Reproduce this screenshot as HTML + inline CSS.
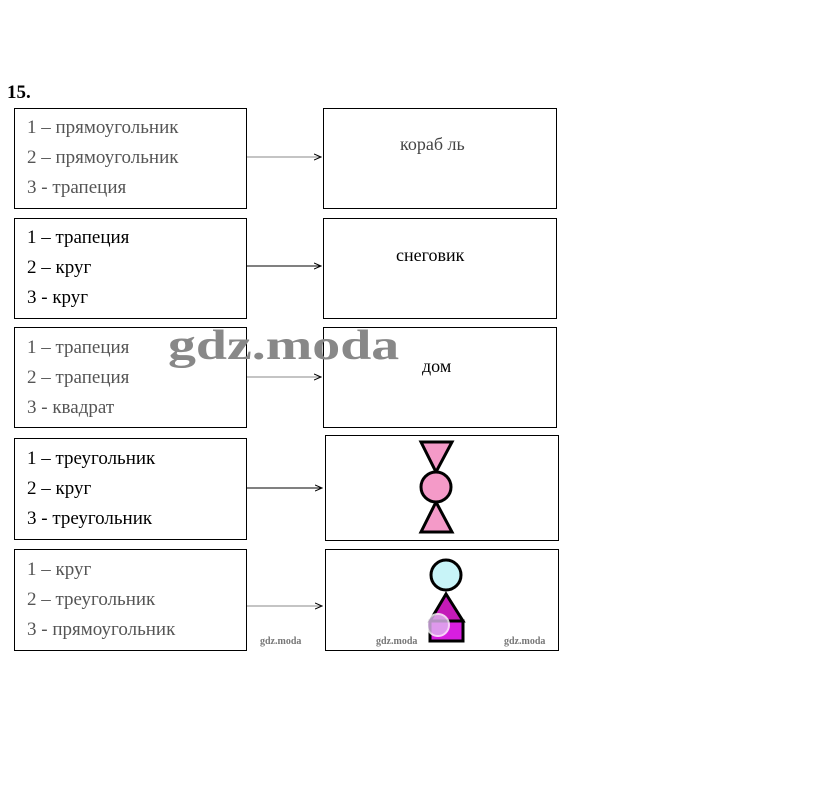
<!DOCTYPE html>
<html><head><meta charset="utf-8"><style>
body{margin:0;width:823px;height:792px;background:#fff;position:relative;overflow:hidden;font-family:"Liberation Serif",serif;}
.b{position:absolute;border:1.3px solid #000;box-sizing:border-box;background:#fff}
.t{position:absolute;font-size:19px;color:#000;line-height:30px;white-space:nowrap}
.l{position:absolute;font-size:18px}
.w{position:absolute;font-size:10px;color:#777;font-weight:bold}
</style></head><body>
<div style="position:absolute;left:7px;top:82px;font-size:19px;font-weight:bold">15.</div>

<div class="b" style="left:14px;top:108px;width:233px;height:101px"></div>
<div class="t" style="left:27px;top:113px;color:#555">1 – прямоугольник<br>2 – прямоугольник<br>3 - трапеция</div>
<div class="b" style="left:323px;top:108px;width:234px;height:101px"></div>
<div class="l" style="left:400px;top:134px;color:#444">кораб ль</div>

<div class="b" style="left:14px;top:218px;width:233px;height:101px"></div>
<div class="t" style="left:27px;top:223px">1 – трапеция<br>2 – круг<br>3 - круг</div>
<div class="b" style="left:323px;top:218px;width:234px;height:101px"></div>
<div class="l" style="left:396px;top:245px">снеговик</div>

<div class="b" style="left:14px;top:327px;width:233px;height:101px"></div>
<div class="t" style="left:27px;top:333px;color:#555">1 – трапеция<br>2 – трапеция<br>3 - квадрат</div>
<div class="b" style="left:323px;top:327px;width:234px;height:101px"></div>
<div class="l" style="left:422px;top:356px">дом</div>
<div style="position:absolute;left:168px;top:322px;font-size:42px;font-weight:bold;color:#888;transform:scaleX(1.33);transform-origin:0 0;white-space:nowrap">gdz.moda</div>

<div class="b" style="left:14px;top:438px;width:233px;height:102px"></div>
<div class="t" style="left:27px;top:444px">1 – треугольник<br>2 – круг<br>3 - треугольник</div>
<div class="b" style="left:325px;top:435px;width:234px;height:106px"></div>

<div class="b" style="left:14px;top:549px;width:233px;height:102px"></div>
<div class="t" style="left:27px;top:555px;color:#555">1 – круг<br>2 – треугольник<br>3 - прямоугольник</div>
<div class="b" style="left:325px;top:549px;width:234px;height:102px"></div>
<div class="w" style="left:260px;top:636px">gdz.moda</div>
<div class="w" style="left:376px;top:636px">gdz.moda</div>
<div class="w" style="left:504px;top:636px">gdz.moda</div>

<svg style="position:absolute;left:0;top:0" width="823" height="792">
<defs><marker id="a" markerWidth="8" markerHeight="8" refX="7" refY="4" orient="auto"><path d="M0,1 L7,4 L0,7" fill="none" stroke="#000" stroke-width="1"/></marker></defs>
<g stroke="#000" stroke-width="1" marker-end="url(#a)">
<line x1="247" y1="157" x2="321" y2="157" stroke="#888"/>
<line x1="247" y1="266" x2="321" y2="266"/>
<line x1="247" y1="377" x2="321" y2="377" stroke="#888"/>
<line x1="247" y1="488" x2="322" y2="488"/>
<line x1="247" y1="606" x2="322" y2="606" stroke="#888"/>
</g>
<g stroke="#000" stroke-width="3" fill="#f49ac8">
<polygon points="421,442 452,442 436,472"/>
<polygon points="436,502 421,532 452,532"/>
<circle cx="436" cy="487" r="15"/>
</g>
<g stroke="#000" stroke-width="3">
<rect x="430" y="621" width="33" height="20" fill="#d81ee0"/>
<polygon points="446,594 430,621 463,621" fill="#c41ab8"/>
<circle cx="446" cy="575" r="15" fill="#c8f4f8"/>
</g>
<circle cx="438" cy="625" r="11" fill="#e0b8f0" stroke="#fff" stroke-width="2" opacity="0.8"/>
</svg>
</body></html>
